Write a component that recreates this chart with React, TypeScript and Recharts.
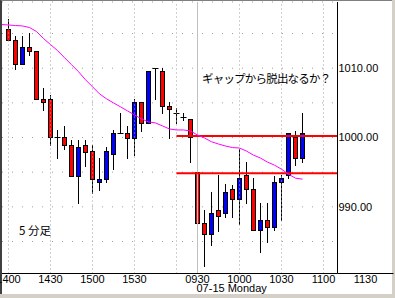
import { Bar, CartesianGrid, ComposedChart, Line, ReferenceLine, XAxis, YAxis } from "recharts";

// 5 min candles, index 0 = 1400 of the previous session, index 27 = 0930
const open = [
  1015.6, 1014.0, 1010.5, 1013.0, 1012.4, 1005.5, 1005.5, 1000.0, 1000.0, 998.85,
  994.4, 998.85, 998.0, 993.5, 993.9, 997.55, 1000.6, 1000.6, 999.9, 1005.0,
  1002.0, 1010.0, 1009.5, 1004.5, 1003.5, 1002.9, 1002.6, 994.95, 987.6, 986.0,
  989.5, 989.0, 992.5, 991.05, 994.5, 992.5, 986.6, 988.0, 987.0, 993.5,
  994.5, 1000.0, 997.0,
];
const high = [
  1017.0, 1014.6, 1014.6, 1015.0, 1012.4, 1007.1, 1006.1, 1001.0, 1001.6, 999.6,
  999.6, 999.6, 998.85, 997.0, 998.6, 1001.0, 1003.5, 1001.6, 1005.5, 1005.0,
  1009.5, 1010.0, 1010.0, 1005.0, 1004.2, 1003.5, 1002.6, 996.5, 989.5, 992.1,
  994.5, 993.2, 993.1, 998.3, 996.4, 994.1, 990.5, 990.5, 994.4, 994.5,
  1000.6, 1000.9, 1003.5,
];
const low = [
  1014.0, 1009.8, 1010.5, 1011.8, 1005.5, 1003.9, 998.9, 997.0, 998.3, 994.4,
  990.5, 995.8, 991.9, 992.35, 993.5, 995.4, 1000.6, 997.0, 997.4, 1000.9,
  1002.0, 1005.5, 1003.5, 999.9, 1002.0, 1002.45, 996.4, 987.6, 981.4, 984.4,
  986.4, 988.5, 988.5, 987.45, 990.5, 986.6, 983.4, 984.85, 986.6, 988.0,
  994.1, 996.0, 996.4,
];
const close = [
  1014.0, 1010.5, 1013.0, 1012.4, 1005.5, 1005.0, 1000.0, 1000.0, 998.85, 994.4,
  998.6, 997.8, 993.9, 993.9, 998.0, 1000.6, 1000.6, 999.9, 1005.0, 1002.0,
  1009.5, 1010.0, 1004.5, 1004.0, 1003.5, 1002.9, 1000.0, 987.6, 986.0, 989.0,
  988.6, 992.1, 991.05, 994.1, 992.5, 986.6, 988.0, 987.0, 993.5, 994.1,
  1000.6, 997.0, 1000.6,
];
// moving average, first value sits one bar before index 0
const ma = [
  1016.3, 1016.23, 1016.16, 1016.09, 1015.87, 1015.29, 1014.28, 1013.41, 1012.54, 1011.52,
  1010.51, 1009.49, 1008.33, 1007.32, 1006.3, 1005.58, 1005.0, 1004.42, 1003.84, 1003.26,
  1002.68, 1002.25, 1002.1, 1001.67, 1001.23, 1001.09, 1001.09, 1000.94, 1000.36, 999.93,
  999.39, 999.06, 998.77, 998.55, 998.48, 998.04, 997.46, 997.03, 996.45, 996.01,
  995.43, 994.71, 994.13, 993.99,
];

const xTicks = [0, 6, 12, 18, 27, 33, 39, 45, 51];
const xTickLabels = ["1400", "1430", "1500", "1530", "0930", "1000", "1030", "1100", "1130"];
const gridX = [0, 6, 12, 18, 24, 33, 39, 45];
const sessionStart = 27;
const dateLabel = "07-15 Monday";
const yTicks = [985, 990, 995, 1000, 1005, 1010, 1015];
const yLabelTicks = [990, 1000, 1010];
const resistance = 1000.2;
const support = 994.85;
const levelFrom = 24;

const xMin = -13 / 14;
const xMax = 47;
const yMin = 980.38;
const yMax = 1019.55;

const rows: any[] = ma.map((m, k) => {
  const i = k - 1;
  const row: any = { i, ma: m, range: null };
  if (i >= 0) {
    row.o = open[i];
    row.h = high[i];
    row.l = low[i];
    row.c = close[i];
    row.range = [low[i], high[i]];
  }
  if (i === levelFrom) {
    row.res = resistance;
    row.sup = support;
  }
  return row;
});
// end point of the two level lines at the right edge of the plot
const data = [...rows, { i: xMax, range: null, res: resistance, sup: support }];

const font = "'Liberation Sans', Arial, sans-serif";

const Candle = (props: any) => {
  const { x, y, width, height, payload } = props;
  if (payload == null || payload.o == null) return <g />;
  const { o, h, l, c } = payload;
  const top = Math.min(y, y + height);
  const span = Math.abs(height);
  const py = (v: number) => (h === l ? top : top + ((h - v) / (h - l)) * span);
  const cx = Math.floor(x + width / 2) + 0.5;
  const bTop = Math.floor(py(Math.max(o, c))) + 0.5;
  const bBot = Math.floor(py(Math.min(o, c))) + 0.5;
  return (
    <g>
      <line x1={cx} x2={cx} y1={Math.floor(py(h))} y2={Math.floor(py(l)) + 1} stroke="#000" />
      {o === c ? (
        <line x1={cx - 3} x2={cx + 3} y1={bTop} y2={bTop} stroke="#000" />
      ) : (
        <rect
          x={cx - 2}
          y={bTop}
          width={4}
          height={bBot - bTop}
          fill={c > o ? "#0000ff" : "#ff0000"}
          stroke="#000"
        />
      )}
    </g>
  );
};

const XTick = ({ x, y, payload }: any) => {
  const label = xTickLabels[xTicks.indexOf(payload.value)];
  return (
    <g>
      <text x={x} y={y} dy="0.71em" textAnchor="middle" fontSize={11} fontFamily={font} fill="#000">
        {label}
      </text>
      {payload.value === sessionStart && (
        <text x={x - 1} y={y + 9} dy="0.71em" textAnchor="start" fontSize={11} fontFamily={font} fill="#000">
          {dateLabel}
        </text>
      )}
    </g>
  );
};

const YTick = ({ x, y, payload }: any) => {
  if (!yLabelTicks.includes(payload.value)) return <g />;
  return (
    <text x={x} y={y} dy="0.355em" textAnchor="start" fontSize={11} fontFamily={font} fill="#000">
      {payload.value.toFixed(2)}
    </text>
  );
};

const App = () => {
  return (
    <div style={{ position: "absolute", left: 0, top: 0, width: 395, height: 298, background: "#d4d0c8" }}>
      <div
        style={{
          position: "absolute",
          left: 0,
          top: 0,
          width: 392,
          height: 294,
          background: "#fff",
          borderTop: "1px solid #808080",
          borderLeft: "2px solid #404040",
          boxSizing: "border-box",
        }}
      />
      <div style={{ position: "absolute", left: 0, top: 0 }}>
        <ComposedChart width={395} height={298} data={data} margin={{ top: 2, right: 0, bottom: 0, left: 2 }}>
          <CartesianGrid vertical={false} stroke="#a0a0a0" strokeDasharray="1 9" />
          {gridX.map((v) => (
            <ReferenceLine key={v} x={v} stroke="#a0a0a0" strokeDasharray="1 3" />
          ))}
          <ReferenceLine x={sessionStart} stroke="#c0c0c0" />
          <ReferenceLine
            segment={[{ x: xMax, y: yMin }, { x: 55, y: yMin }]}
            stroke="#000"
            ifOverflow="visible"
          />
          <XAxis
            dataKey="i"
            type="number"
            domain={[xMin, xMax]}
            allowDataOverflow
            ticks={xTicks}
            interval={0}
            height={24.5}
            tickLine={false}
            tickSize={0}
            tickMargin={2}
            axisLine={{ stroke: "#000" }}
            tick={<XTick />}
          />
          <YAxis
            orientation="right"
            type="number"
            domain={[yMin, yMax]}
            allowDataOverflow
            ticks={yTicks}
            interval={0}
            width={57.5}
            tickLine={false}
            tickSize={0}
            tickMargin={1}
            axisLine={{ stroke: "#000" }}
            tick={<YTick />}
          />
          <Line
            dataKey="res"
            type="linear"
            stroke="#ff0000"
            strokeWidth={2}
            dot={false}
            activeDot={false}
            connectNulls
            isAnimationActive={false}
          />
          <Line
            dataKey="sup"
            type="linear"
            stroke="#ff0000"
            strokeWidth={2}
            dot={false}
            activeDot={false}
            connectNulls
            isAnimationActive={false}
          />
          <Line
            dataKey="ma"
            type="linear"
            stroke="#ff00ff"
            strokeWidth={1}
            dot={false}
            activeDot={false}
            isAnimationActive={false}
          />
          <Bar dataKey="range" barSize={6} shape={<Candle />} isAnimationActive={false} />
        </ComposedChart>
      </div>
      <div
        style={{
          position: "absolute",
          left: 202,
          top: 72,
          fontFamily: "'Noto Sans CJK JP'",
          fontSize: 11.5,
          lineHeight: "12px",
          letterSpacing: -0.8,
          whiteSpace: "nowrap",
          color: "#000",
        }}
      >
        ギャップから脱出なるか？
      </div>
      <div
        style={{
          position: "absolute",
          left: 19,
          top: 224,
          fontFamily: "'Noto Sans CJK JP'",
          fontSize: 11.5,
          lineHeight: "12px",
          whiteSpace: "nowrap",
          color: "#000",
        }}
      >
        5 分足
      </div>
    </div>
  );
};

export default App;
